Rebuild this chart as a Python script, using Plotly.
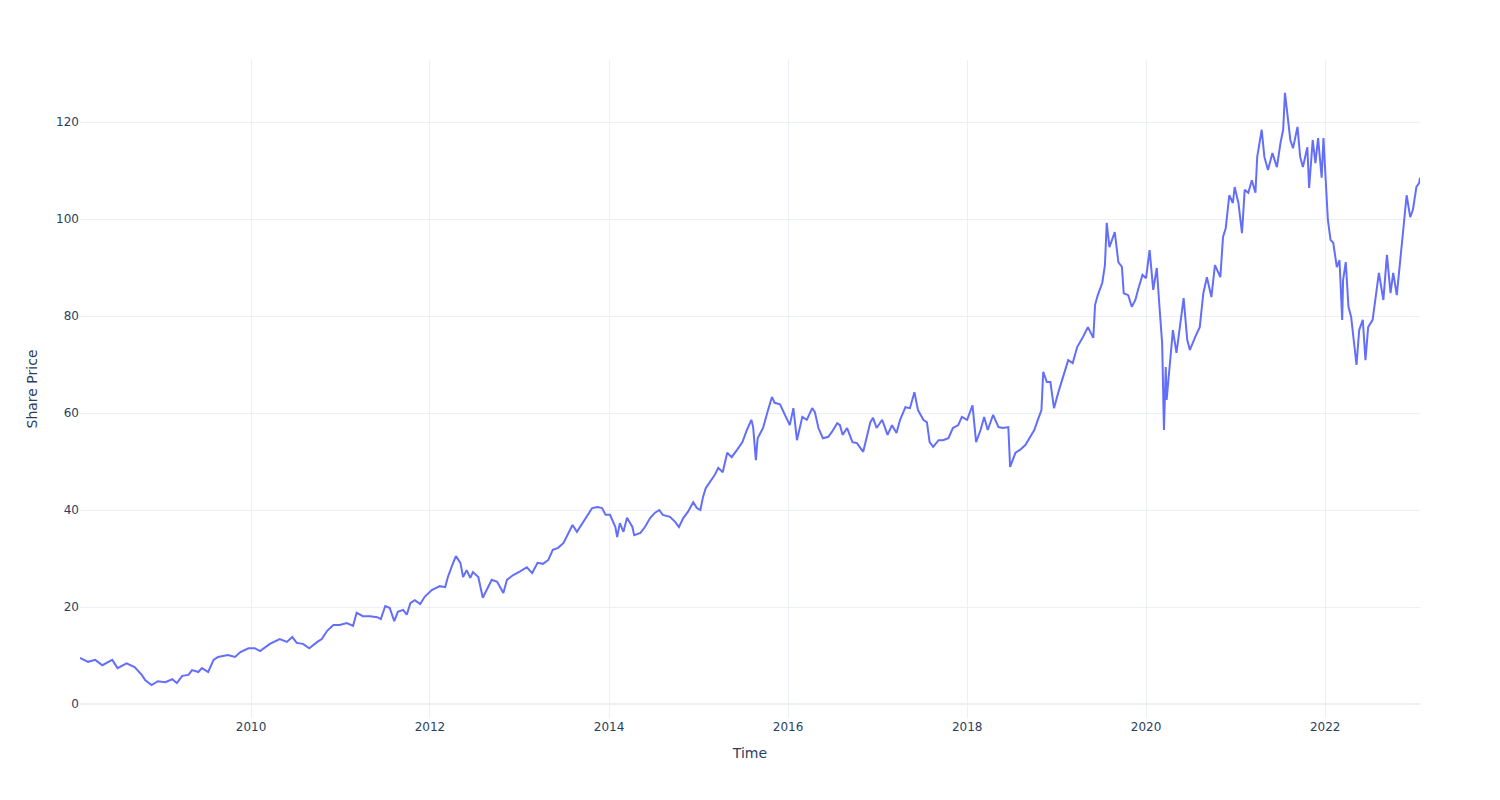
import pandas as pd
import plotly.graph_objects as go

# Decimal-year time stamps and share prices
years = [
    2008.09, 2008.18, 2008.26, 2008.34, 2008.45, 2008.51, 2008.61, 2008.70, 2008.78, 2008.82,
    2008.89, 2008.96, 2009.04, 2009.12, 2009.17, 2009.23, 2009.30, 2009.34, 2009.41, 2009.45,
    2009.52, 2009.58, 2009.63, 2009.74, 2009.82, 2009.88, 2009.97, 2010.04, 2010.10, 2010.21,
    2010.32, 2010.40, 2010.46, 2010.51, 2010.58, 2010.65, 2010.74, 2010.79, 2010.85, 2010.92,
    2010.99, 2011.07, 2011.14, 2011.18, 2011.25, 2011.33, 2011.41, 2011.45, 2011.50, 2011.55,
    2011.60, 2011.64, 2011.70, 2011.74, 2011.78, 2011.83, 2011.89, 2011.94, 2012.02, 2012.09,
    2012.11, 2012.17, 2012.20, 2012.25, 2012.29, 2012.34, 2012.37, 2012.41, 2012.45, 2012.48,
    2012.54, 2012.59, 2012.64, 2012.69, 2012.75, 2012.82, 2012.86, 2012.93, 2013.01, 2013.08,
    2013.14, 2013.20, 2013.26, 2013.32, 2013.37, 2013.43, 2013.49, 2013.53, 2013.59, 2013.64,
    2013.70, 2013.75, 2013.81, 2013.87, 2013.92, 2013.96, 2014.01, 2014.07, 2014.09, 2014.12,
    2014.16, 2014.20, 2014.26, 2014.28, 2014.35, 2014.40, 2014.46, 2014.51, 2014.56, 2014.60,
    2014.68, 2014.74, 2014.78, 2014.83, 2014.88, 2014.94, 2014.98, 2015.02, 2015.05, 2015.08,
    2015.13, 2015.18, 2015.22, 2015.27, 2015.32, 2015.37, 2015.43, 2015.49, 2015.54, 2015.59,
    2015.61, 2015.64, 2015.66, 2015.72, 2015.77, 2015.82, 2015.85, 2015.91, 2015.97, 2016.02,
    2016.06, 2016.10, 2016.16, 2016.21, 2016.27, 2016.30, 2016.34, 2016.39, 2016.45, 2016.49,
    2016.55, 2016.58, 2016.61, 2016.66, 2016.72, 2016.77, 2016.84, 2016.88, 2016.92, 2016.95,
    2016.99, 2017.05, 2017.11, 2017.16, 2017.21, 2017.25, 2017.31, 2017.36, 2017.41, 2017.45,
    2017.51, 2017.55, 2017.58, 2017.62, 2017.68, 2017.73, 2017.79, 2017.84, 2017.90, 2017.94,
    2018.00, 2018.06, 2018.10, 2018.15, 2018.19, 2018.23, 2018.29, 2018.35, 2018.40, 2018.46,
    2018.48, 2018.54, 2018.59, 2018.65, 2018.70, 2018.75, 2018.79, 2018.83, 2018.85, 2018.89,
    2018.93, 2018.97, 2019.02, 2019.07, 2019.13, 2019.18, 2019.23, 2019.29, 2019.35, 2019.41,
    2019.43, 2019.46, 2019.51, 2019.54, 2019.56, 2019.59, 2019.63, 2019.65, 2019.69, 2019.73,
    2019.75, 2019.80, 2019.84, 2019.88, 2019.91, 2019.96, 2020.00, 2020.04, 2020.08, 2020.12,
    2020.15, 2020.18, 2020.20, 2020.22, 2020.23, 2020.28, 2020.30, 2020.34, 2020.38, 2020.42,
    2020.46, 2020.49, 2020.55, 2020.60, 2020.64, 2020.68, 2020.73, 2020.77, 2020.83, 2020.86,
    2020.89, 2020.93, 2020.97, 2020.99, 2021.03, 2021.07, 2021.10, 2021.14, 2021.18, 2021.22,
    2021.24, 2021.29, 2021.32, 2021.36, 2021.41, 2021.46, 2021.50, 2021.53, 2021.55, 2021.58,
    2021.61, 2021.64, 2021.69, 2021.72, 2021.75, 2021.80, 2021.82, 2021.86, 2021.89, 2021.92,
    2021.96, 2021.98, 2022.01, 2022.03, 2022.06, 2022.09, 2022.13, 2022.16, 2022.19, 2022.20,
    2022.23, 2022.26, 2022.29, 2022.32, 2022.35, 2022.38, 2022.42, 2022.45, 2022.48, 2022.53,
    2022.56, 2022.60, 2022.65, 2022.69, 2022.73, 2022.76, 2022.80, 2022.84, 2022.87, 2022.91,
    2022.95, 2022.98, 2023.02, 2023.05, 2023.06,
]

prices = [
    9.5, 8.7, 9.1, 8.0, 9.1, 7.4, 8.4, 7.6, 6.0, 4.9,
    3.9, 4.7, 4.5, 5.1, 4.3, 5.8, 6.0, 7.0, 6.6, 7.4,
    6.6, 9.1, 9.7, 10.1, 9.7, 10.7, 11.5, 11.5, 10.9, 12.4,
    13.4, 12.8, 13.8, 12.6, 12.4, 11.5, 12.8, 13.4, 15.1, 16.3,
    16.3, 16.7, 16.1, 18.8, 18.1, 18.1, 17.9, 17.5, 20.2, 19.8,
    17.1, 19.0, 19.4, 18.4, 20.8, 21.4, 20.6, 22.1, 23.5, 24.1,
    24.3, 24.1, 26.2, 28.7, 30.5, 29.1, 26.2, 27.6, 26.0, 27.2,
    26.2, 21.9, 23.9, 25.6, 25.2, 22.9, 25.6, 26.6, 27.4, 28.2,
    27.0, 29.1, 28.9, 29.7, 31.8, 32.2, 33.2, 34.8, 36.9, 35.5,
    37.3, 38.6, 40.4, 40.6, 40.4, 39.0, 39.0, 36.5, 34.4, 37.3,
    35.5, 38.4, 36.5, 34.8, 35.3, 36.5, 38.4, 39.4, 40.0, 39.0,
    38.6, 37.5, 36.5, 38.4, 39.6, 41.6, 40.4, 40.0, 42.7, 44.5,
    45.8, 47.2, 48.7, 47.8, 51.8, 50.9, 52.4, 54.0, 56.5, 58.6,
    57.1, 50.3, 54.8, 56.9, 60.2, 63.3, 62.1, 61.8, 59.4, 57.5,
    61.0, 54.4, 59.2, 58.6, 61.0, 60.2, 56.9, 54.8, 55.1, 56.1,
    57.9, 57.5, 55.5, 56.9, 54.0, 53.8, 52.0, 55.1, 58.1, 59.0,
    56.9, 58.6, 55.5, 57.5, 55.9, 58.6, 61.2, 61.0, 64.3, 60.6,
    58.6, 58.1, 54.0, 53.0, 54.4, 54.4, 54.8, 56.9, 57.5, 59.2,
    58.6, 61.6, 54.0, 56.5, 59.2, 56.5, 59.6, 57.1, 56.9, 57.1,
    48.9, 51.8, 52.4, 53.4, 55.1, 56.5, 58.6, 60.6, 68.5, 66.4,
    66.4, 61.0, 64.3, 67.2, 70.9, 70.3, 73.6, 75.5, 77.7, 75.5,
    82.3, 84.3, 86.8, 90.5, 99.2, 94.2, 96.3, 97.3, 91.1, 90.1,
    84.7, 84.3, 81.9, 83.3, 85.4, 88.5, 87.8, 93.6, 85.4, 89.9,
    81.9, 74.4, 56.5, 69.5, 62.7, 73.6, 77.1, 72.4, 77.7, 83.7,
    75.1, 73.0, 75.7, 77.7, 84.7, 88.0, 83.9, 90.5, 88.0, 96.3,
    98.1, 104.9, 103.3, 106.6, 103.3, 97.1, 106.0, 105.4, 108.0, 105.4,
    112.8, 118.4, 112.8, 110.1, 113.6, 110.7, 115.7, 118.4, 126.0, 120.4,
    116.3, 114.6, 119.0, 112.8, 110.7, 114.8, 106.4, 116.3, 111.5, 116.7,
    108.5, 116.7, 106.6, 99.8, 95.7, 95.1, 90.1, 91.5, 79.2, 87.4,
    91.1, 81.9, 79.8, 75.1, 69.9, 77.1, 79.2, 70.9, 77.7, 79.2,
    83.9, 88.9, 83.3, 92.6, 84.7, 88.9, 84.3, 91.5, 97.7, 104.9,
    100.4, 101.9, 106.6, 107.4, 108.5,
]

def to_date(y):
    base = pd.Timestamp(int(y), 1, 1)
    return base + pd.Timedelta(days=(y - int(y)) * 365.25)

dates = [to_date(y) for y in years]

fig = go.Figure(
    go.Scatter(x=dates, y=prices, mode="lines", line=dict(color="#636efa", width=2))
)
fig.update_layout(
    template="plotly_white",
    font=dict(family="DejaVu Sans"),
    width=1500,
    height=800,
    margin=dict(l=72, r=88, t=52, b=90),
    xaxis_title="Time",
    yaxis_title="Share Price",
)
fig.write_html("out.html")
